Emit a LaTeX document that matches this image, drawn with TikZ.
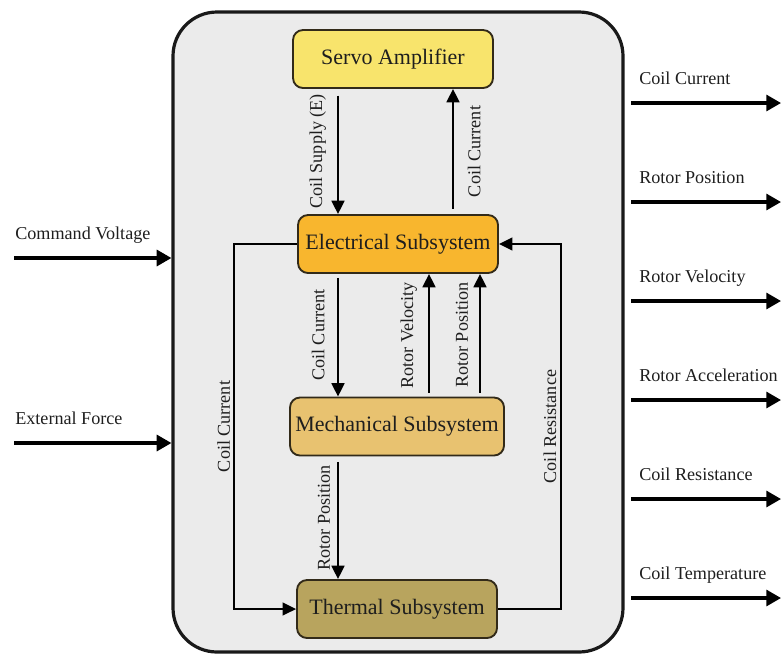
\documentclass[tikz,border=0pt]{standalone}
\usepackage{fontspec}
\setmainfont{Liberation Serif}
\usetikzlibrary{arrows.meta}
\definecolor{cframe}{RGB}{235,235,235}
\definecolor{cservo}{RGB}{248,228,108}
\definecolor{celec}{RGB}{248,182,46}
\definecolor{cmech}{RGB}{232,194,112}
\definecolor{ctherm}{RGB}{184,164,94}
\definecolor{cedge}{RGB}{50,42,25}
\definecolor{cink}{RGB}{30,30,30}
\tikzset{solsys/.style={x=0.75pt,y=-0.75pt,font=\fontsize{13.6}{16}\selectfont,text=cink},
  blk/.style={draw=cedge,line width=1.4pt,rounded corners=7.5pt,minimum width=150pt,minimum height=43.5pt,
    inner sep=0pt,font=\fontsize{16.5}{19}\selectfont},
  flow/.style={draw=black,line width=1.9pt,-{Triangle[length=10pt,width=9.5pt]}},
  port/.style={flow,line width=2.3pt,-{Triangle[length=11pt,width=12pt]}},
  vlbl/.style={rotate=90,inner sep=0pt,outer sep=9pt},
  txt/.style={inner sep=0pt,anchor=base west}}

\begin{document}
\begin{tikzpicture}[solsys]
    \useasboundingbox (0,0) rectangle (781,654);
    \node[draw=black!90,line width=2.4pt,fill=cframe,rounded corners=33pt,
      minimum width=337.5pt,minimum height=480pt] (sys) at (398,332) {};
    \node[blk,fill=cservo] (servo) at (393,59) {Servo Amplifier};
    \node[blk,fill=celec]  (elec)  at (398,244) {Electrical Subsystem};
    \node[blk,fill=cmech,minimum width=160.5pt] (mech) at (397,426.5) {Mechanical Subsystem};
    \node[blk,fill=ctherm] (therm) at (397,609) {Thermal Subsystem};
    % columns of the vertical links
    \coordinate (cA) at (338,0);
    \coordinate (cB) at (429,0);
    \coordinate (cC) at (453,0);
    \coordinate (cD) at (480,0);
    \draw[flow,shorten <=5pt] (servo.south -| cA) -- node[vlbl,anchor=south] {Coil Supply (E)} (elec.north -| cA);
    \draw[flow,shorten <=4pt] (elec.north -| cC) -- node[vlbl,anchor=north,outer sep=11pt] {Coil Current} (servo.south -| cC);
    \draw[flow,shorten <=3pt] (elec.south -| cA) -- node[vlbl,anchor=south,outer sep=10pt] {Coil Current} (mech.north -| cA);
    \draw[flow,shorten <=3pt] (mech.north -| cB) -- node[vlbl,anchor=south] {Rotor Velocity} (elec.south -| cB);
    \draw[flow,shorten <=3pt] (mech.north -| cD) -- node[vlbl,anchor=south] {Rotor Position} (elec.south -| cD);
    \draw[flow,shorten <=4pt] (mech.south -| cA) -- node[vlbl,anchor=south,outer sep=6pt] {Rotor Position} (therm.north -| cA);
    \draw[flow,line width=1.5pt] (elec.west) -- ++(-63,0) |- node[vlbl,anchor=south,outer sep=3pt,pos=0.25] {Coil Current} (therm.west);
    \draw[flow,line width=1.5pt] (therm.east) -- ++(63,0) |- node[vlbl,anchor=south,outer sep=3.5pt,pos=0.25] {Coil Resistance} (elec.east);
    % inputs
    \coordinate (cmd) at (14,258);
    \coordinate (ext) at (14,443);
    \draw[port] (cmd) -- (cmd -| sys.west);
    \draw[port] (ext) -- (ext -| sys.west);
    \node[txt] (cmdtxt) at (15,239) {Command Voltage};
    \node[txt] (exttxt) at (15,424) {External Force};
    % outputs
    \foreach \y/\lbl [count=\i] in {103/Coil Current,202/Rotor Position,301/Rotor Velocity,
        400/Rotor Acceleration,499/Coil Resistance,598/Coil Temperature} {
      \coordinate (out\i) at (781,\y);
      \draw[port,shorten <=5pt] (out\i -| sys.east) -- (out\i);
      \node[txt] (outtxt\i) at (639,\y-19) {\lbl};
    }
\end{tikzpicture}
\end{document}
